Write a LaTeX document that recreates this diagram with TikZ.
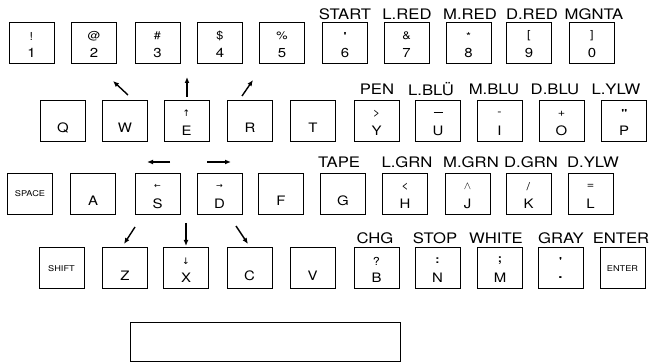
\documentclass[tikz,border=0pt]{standalone}
\usepackage{fontspec}
\setmainfont{TeX Gyre Heros}[FakeStretch=1.15]
\newfontfamily\symfont{DejaVu Sans}
\usetikzlibrary{arrows.meta,calc}
\tikzset{
  keybox/.style={draw,line width=1pt,minimum width=45pt,minimum height=41pt,inner sep=0pt},
  topsym/.style={inner sep=0pt,font=\fontsize{11}{11}\selectfont},
  botsym/.style={inner sep=0pt,font=\fontsize{13}{13}\selectfont},
  smalltxt/.style={inner sep=0pt,font=\fontsize{8}{8}\selectfont},
  collbl/.style={inner sep=0pt,font=\fontsize{14.5}{14.5}\selectfont},
  dirarrow/.style={line width=1.4pt,-{Latex[length=6pt,width=5pt]}},
}
\newcommand\kk[5]{%
  \node[keybox] (#1) at (#2,#3) {};
  \node[topsym] (#1t) at ($(#1.center)+(0,-7.5)$) {#4};
  \node[botsym] (#1b) at ($(#1.center)+(0,9.5)$) {#5};
}
\newcommand\kl[4]{%
  \node[keybox] (#1) at (#2,#3) {};
  \node[botsym] (#1b) at ($(#1.center)+(0,7)$) {#4};
}
\newcommand\ks[4]{%
  \node[keybox] (#1) at (#2,#3) {};
  \node[smalltxt] (#1b) at (#1.center) {#4};
}
\begin{document}
\begin{tikzpicture}[x=1pt,y=-1pt]
\useasboundingbox (0,0) rectangle (656,363);
% row 1
\kk{k1}{31.5}{43.5}{!}{1}
\kk{k2}{94}{43.5}{@}{2}
\kk{k3}{157.5}{43.5}{\#}{3}
\kk{k4}{220}{43.5}{\$}{4}
\kk{k5}{282}{43.5}{\%}{5}
\kk{k6}{345}{43.5}{\textbf{\textquotesingle}}{6}
\kk{k7}{406.5}{43.5}{\&}{7}
\kk{k8}{468.5}{43.5}{*}{8}
\kk{k9}{529}{43.5}{[}{9}
\kk{k0}{592}{43.5}{]}{0}
% row 2
\kl{kq}{63}{121}{Q}
\kl{kw}{125}{121}{W}
\kk{ke}{186.5}{121}{\symfont\fontsize{9}{9}\selectfont ↑}{E}
\kl{kr}{250}{121}{R}
\kl{kt}{313}{121}{T}
\kk{ky}{376.5}{121}{>}{Y}
\kk{ku}{438}{121}{\rule[0.5ex]{9pt}{0.7pt}}{U}
\kk{ki}{499.5}{121}{-}{I}
\kk{ko}{561.5}{121}{+}{O}
\kk{kp}{624}{121}{\textbf{\textquotedbl}}{P}
% row 3
\ks{ksp}{30}{194}{SPACE}
\kl{ka}{93}{194}{A}
\kk{ks}{157.5}{194}{\symfont\fontsize{8}{8}\selectfont ←}{S}
\kk{kd}{219.5}{194}{\symfont\fontsize{8}{8}\selectfont →}{D}
\kl{kf}{281}{194}{F}
\kl{kg}{343}{194}{G}
\kk{kh}{405}{194}{<}{H}
\kk{kj}{467.5}{194}{$\wedge$}{J}
\kk{kk}{528.5}{194}{/}{K}
\kk{kll}{590.5}{194}{=}{L}
% row 4
\ks{ksh}{61.5}{268.5}{SHIFT}
\kl{kz}{125}{268.5}{Z}
\kk{kx}{186}{268.5}{\symfont\fontsize{9}{9}\selectfont ↓}{X}
\kl{kc}{249.5}{268.5}{C}
\kl{kv}{312.5}{268.5}{V}
\kk{kb}{376.5}{268.5}{?}{B}
\kk{kn}{437.5}{268.5}{\textbf{:}}{N}
\kk{km}{500}{268.5}{\textbf{;}}{M}
\kk{kdot}{560.5}{268.5}{\textbf{\textquotesingle}}{\textbf{.}}
\ks{ken}{622.5}{268.5}{ENTER}
% column labels
\node[collbl] (l6) at (345,14) {START};
\node[collbl] (l7) at (407,14) {L.RED};
\node[collbl] (l8) at (470,14) {M.RED};
\node[collbl] (l9) at (532,14) {D.RED};
\node[collbl] (l0) at (594,14) {MGNTA};
\node[collbl] (ly) at (377,89) {PEN};
\node[collbl] (lu) at (431,89) {L.BLÜ};
\node[collbl] (li) at (494,89) {M.BLU};
\node[collbl] (lo) at (555,89) {D.BLU};
\node[collbl] (lp) at (616,89) {L.YLW};
\node[collbl] (lg) at (339,162) {TAPE};
\node[collbl] (lh) at (407,162) {L.GRN};
\node[collbl] (lj) at (471,162) {M.GRN};
\node[collbl] (lk) at (531,162) {D.GRN};
\node[collbl] (ll) at (593,162) {D.YLW};
\node[collbl] (lb) at (375,238) {CHG};
\node[collbl] (ln) at (435,238) {STOP};
\node[collbl] (lm) at (496,238) {WHITE};
\node[collbl] (ldot) at (561,238) {GRAY};
\node[collbl] (len) at (621,238) {ENTER};
% direction arrows
\coordinate (a1s) at (128,95); \coordinate (a1e) at (113,81);
\coordinate (a2s) at (187,97); \coordinate (a2e) at (187,77);
\coordinate (a3s) at (242,96); \coordinate (a3e) at (253,80);
\coordinate (a4s) at (170,162); \coordinate (a4e) at (147,162);
\coordinate (a5s) at (207,162); \coordinate (a5e) at (231,162);
\coordinate (a6s) at (135,227); \coordinate (a6e) at (124,244);
\coordinate (a7s) at (186,223); \coordinate (a7e) at (186,246);
\coordinate (a8s) at (236,226); \coordinate (a8e) at (248,244);
\foreach \i in {1,...,8} \draw[dirarrow] (a\i s) -- (a\i e);
% bottom bar
\node[draw,line width=1pt,minimum width=270pt,minimum height=38pt,inner sep=0pt] (bar) at (265,342) {};
\end{tikzpicture}
\end{document}
